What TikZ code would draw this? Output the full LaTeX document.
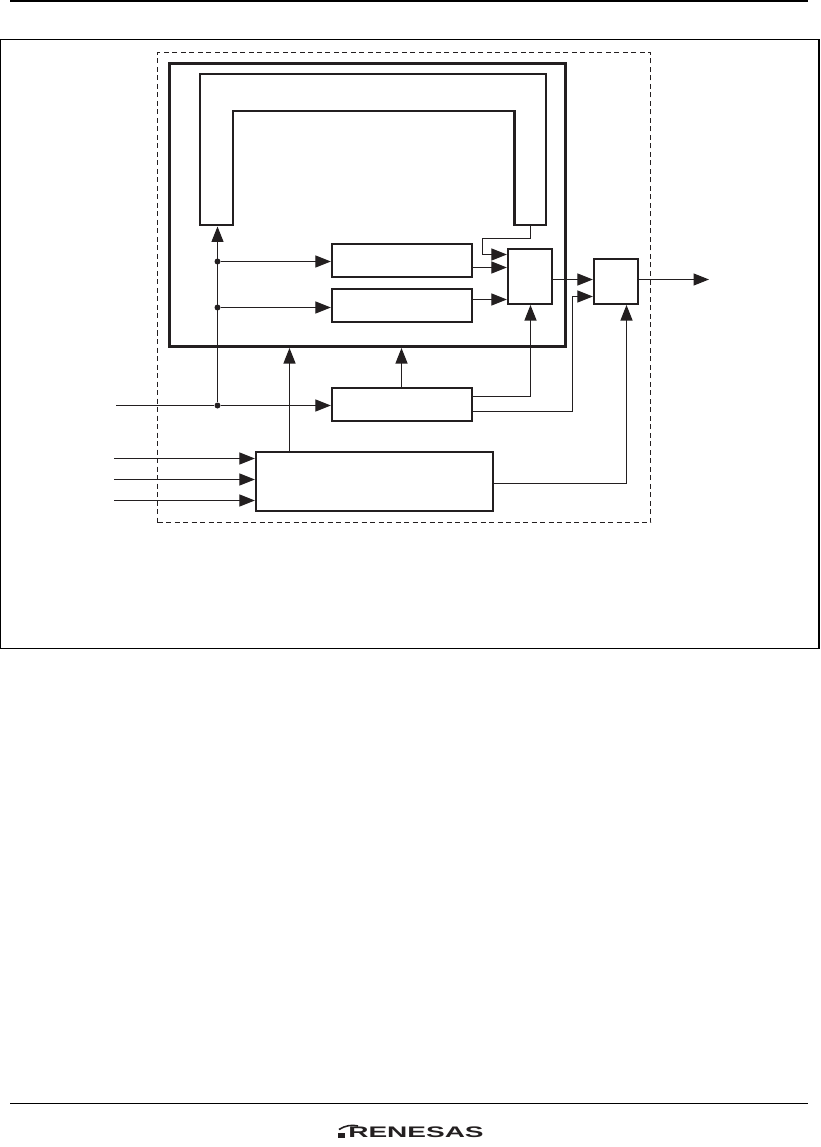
\documentclass[tikz,border=0pt]{standalone}
\usepackage{fontspec}
\setmainfont{Liberation Sans}
\usepackage{tikz}
\usetikzlibrary{arrows.meta}
\definecolor{ink}{HTML}{231F20}
\tikzstyle{frame}=[rectangle, draw=black, line width=1.2pt]
\tikzstyle{dashbox}=[rectangle, draw=ink, dashed, dash pattern=on 5pt off 3.5pt, line width=1pt]
\tikzstyle{heavy}=[rectangle, draw=ink, line width=3pt]
\tikzstyle{blk}=[rectangle, draw=ink, line width=2.2pt]
\tikzstyle{dot}=[circle, fill=ink, inner sep=0pt, minimum size=6pt]
\tikzstyle{dgraph}=[draw=ink, line width=1.1pt]
\tikzstyle{arr}=[dgraph, -{Triangle[length=15.5pt,width=12pt]}]
\tikzstyle{rule}=[draw=black, line width=1.5pt]

\begin{document}
\begin{tikzpicture}[x=1pt,y=-1pt]
\useasboundingbox (0,0) rectangle (820,1147);
\fill[white] (0,0) rectangle (820,1147);
% page rules
\coordinate (headl) at (10,1);
\coordinate (headr) at (808,1);
\coordinate (footl) at (10,1103.5);
\coordinate (footr) at (808,1103.5);
\draw[rule] (headl) -- (headr);
\draw[rule] (footl) -- (footr);
\node[frame,minimum width=818.3,minimum height=608.5] (figframe) at (409.85,344) {};
\node[dashbox,minimum width=493,minimum height=470] (module) at (404,287.5) {};
\node[heavy,minimum width=396.7,minimum height=282.6] (cache) at (367.4,205) {};
% U shaped memory
\draw[draw=ink,line width=2.4pt] (200,225) -- (200,74) -- (546,74) -- (546,225) -- (514.5,225) -- (514.5,111) -- (233,111) -- (233,225) -- cycle;
\coordinate (legl) at (217.5,226.5);
\coordinate (legr) at (530.5,226);
% boxes
\node[blk,minimum width=140,minimum height=33] (regone) at (402,260.5) {};
\node[blk,minimum width=140,minimum height=33] (regtwo) at (402,305.5) {};
\node[blk,minimum width=140,minimum height=33] (ctrl) at (402,404.5) {};
\node[blk,minimum width=237,minimum height=59.5] (dec) at (374.5,481.5) {};
\node[blk,minimum width=44,minimum height=55] (muxa) at (530,276.5) {};
\node[blk,minimum width=44,minimum height=45] (muxb) at (616,281.5) {};
% free ends
\coordinate (clkin) at (116,405.5);
\coordinate (ina) at (114,458.5);
\coordinate (inb) at (114,479.5);
\coordinate (inc) at (114,500.5);
\coordinate (out) at (709,279.5);
\coordinate (hita) at (289.5,348);
\coordinate (hitb) at (401.5,348);
% junctions
\node[dot] (ja) at (217.5,261.5) {};
\node[dot] (jb) at (217.5,307.5) {};
\node[dot] (jc) at (217.5,405.5) {};
% bends
\coordinate (benda) at (482.5,238.5);
\coordinate (bendb) at (482.5,254.5);
\coordinate (bendc) at (572.5,296.5);
\draw[dgraph] (clkin) -- (jc);
\draw[arr] (jc) -- (jc -| ctrl.west);
\draw[arr] (jc) -- (legl);
\draw[arr] (ja) -- (ja -| regone.west);
\draw[arr] (jb) -- (jb -| regtwo.west);
\draw[arr] (ina) -- (ina -| dec.west);
\draw[arr] (inb) -- (inb -| dec.west);
\draw[arr] (inc) -- (inc -| dec.west);
\draw[arr] (hita |- dec.north) -- (hita);
\draw[arr] (hitb |- ctrl.north) -- (hitb);
\draw[arr] (legr) -- (benda -| legr) -- (benda) -- (bendb) -- (bendb -| muxa.west);
\draw[arr] (regone.east |- 0,267.5) -- (muxa.west |- 0,267.5);
\draw[arr] (regtwo.east |- 0,299.5) -- (muxa.west |- 0,299.5);
\draw[arr] (ctrl.east |- 0,396.5) -| (530.5,305);
\draw[arr] (ctrl.east |- 0,411.5) -| (bendc) -- (bendc -| muxb.west);
\draw[arr] (muxa.east |- out) -- (out -| muxb.west);
\draw[arr] (muxb.east |- out) -- (out);
\draw[arr] (dec.east |- 0,483.5) -| (626.5,305);
% logo
\fill[ink] (338,1133) rectangle (345,1138);
\draw[draw=ink,line width=1.6pt] (339,1129.5) .. controls (345,1125.5) and (352,1124.5) .. (358,1126);
\node[xscale=1.83,inner sep=0pt,text=ink,font=\bfseries\fontsize{15.3}{16}\selectfont] (logo) at (416,1132.5) {RENESAS};
\end{tikzpicture}
\end{document}
